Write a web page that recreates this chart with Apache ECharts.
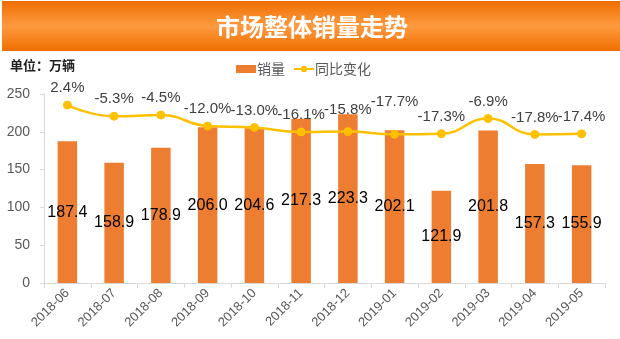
<!DOCTYPE html>
<html><head><meta charset="utf-8">
<script src="https://cdn.jsdelivr.net/npm/echarts@6/dist/echarts.min.js"></script>
<style>html,body{margin:0;padding:0;background:#fff}#c{width:620px;height:339px}</style>
</head><body><div id="c"></div>
<script>
const categories = ['2018-06','2018-07','2018-08','2018-09','2018-10','2018-11','2018-12','2019-01','2019-02','2019-03','2019-04','2019-05'];
const sales = [187.4,158.9,178.9,206.0,204.6,217.3,223.3,202.1,121.9,201.8,157.3,155.9];
const yoy = [2.4,-5.3,-4.5,-12.0,-13.0,-16.1,-15.8,-17.7,-17.3,-6.9,-17.8,-17.4];
const yoyLabelShift = [0,0,0,0,0,0,-5,-15,0,0,0,0];
const yTicks = [0,50,100,150,200,250];

const FONT = 'Liberation Sans, Noto Sans CJK SC, sans-serif';
const chart = echarts.init(document.getElementById('c'), null, {renderer:'canvas'});
chart.setOption({
  animation:false,
  textStyle:{fontFamily:FONT},
  graphic:[
    {type:'rect', left:2, top:1, shape:{width:618, height:50},
     style:{fill:new echarts.graphic.LinearGradient(0,0,0,1,[
       {offset:0,color:'#EE6E00'},{offset:0.5,color:'#FF9A40'},{offset:1,color:'#EF6E00'}])}},
    {type:'text', x:312, y:27, style:{text:'市场整体销量走势', fill:'#fff', font:'bold 24px "Noto Sans CJK SC", sans-serif', textAlign:'center', textVerticalAlign:'middle'}},
    {type:'text', x:10, y:65, style:{text:'单位：万辆', fill:'#222', font:'bold 13px "Noto Sans CJK SC", sans-serif', textVerticalAlign:'middle'}}
  ],
  legend:{
    top:57, left:231, itemGap:8, itemWidth:20, itemHeight:8,
    textStyle:{color:'#595959', fontSize:14, fontFamily:'Noto Sans CJK SC, sans-serif', padding:[0,0,0,-4]},
    data:[{name:'销量', icon:'rect'},{name:'同比变化'}]
  },
  grid:{left:44, right:15, top:94, bottom:56},
  xAxis:{
    type:'category', data:categories,
    axisLine:{lineStyle:{color:'#D9D9D9'}},
    axisTick:{show:true, length:5, lineStyle:{color:'#D9D9D9'}},
    axisLabel:{rotate:45, color:'#595959', fontSize:13, margin:8, interval:0}
  },
  yAxis:[
    {type:'value', min:0, max:250, interval:50,
     axisLine:{show:true, lineStyle:{color:'#D9D9D9'}},
     axisTick:{show:true, length:4, lineStyle:{color:'#D9D9D9'}},
     splitLine:{show:false},
     axisLabel:{color:'#595959', fontSize:14, margin:14,
       formatter:v=> yTicks.includes(v) ? String(v) : ''}},
    {type:'value', min:-120, max:10, show:false, splitLine:{show:false}}
  ],
  series:[
    {name:'销量', type:'bar', data:sales, barWidth:19.5,
     itemStyle:{color:'#ED7D31'},
     label:{show:true, position:'inside', color:'#000', fontSize:16, formatter:p=>p.value.toFixed(1)}},
    {name:'同比变化', type:'line', yAxisIndex:1, smooth:true, symbol:'circle', symbolSize:8,
     data: yoy.map((v,i)=>({value:v, label:{offset:[0,yoyLabelShift[i]]}})),
     lineStyle:{color:'#FFC000', width:2.5}, itemStyle:{color:'#FFC000', borderColor:'#FFC000'},
     label:{show:true, position:'top', distance:5, color:'#404040', fontSize:15, formatter:p=>p.value.toFixed(1)+'%'}}
  ]
});
</script></body></html>
